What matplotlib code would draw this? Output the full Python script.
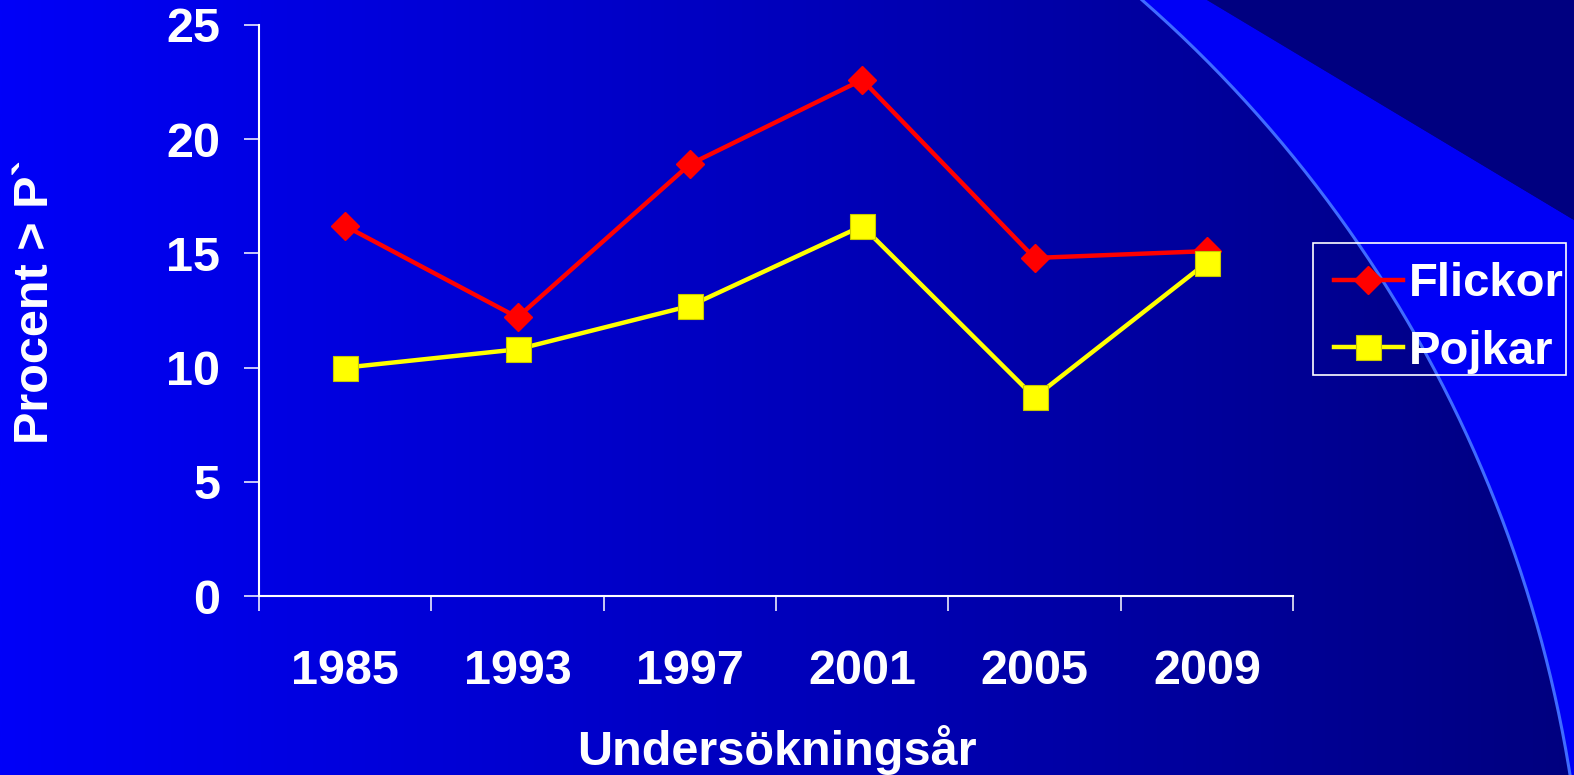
import numpy as np
import matplotlib
matplotlib.use("Agg")
import matplotlib.pyplot as plt
from matplotlib.patches import Polygon, Rectangle

plt.rcParams["font.family"] = ["Liberation Sans", "DejaVu Sans"]
plt.rcParams["font.weight"] = "bold"

years = ["1985", "1993", "1997", "2001", "2005", "2009"]
flickor = [16.2, 12.2, 18.9, 22.6, 14.8, 15.1]
pojkar = [10.0, 10.8, 12.7, 16.2, 8.7, 14.6]
y_ticks = [0, 5, 10, 15, 20, 25]

W, H = 1574, 775
FS = 35
fig = plt.figure(figsize=(W / 100, H / 100), dpi=100)

# slide background: horizontal gradient, bright arc region, dark corner
bg = fig.add_axes([0, 0, 1, 1], zorder=0)
bg.set_xlim(0, W)
bg.set_ylim(H, 0)
bg.axis("off")
grad = np.linspace(0, 1, 400)[None, :]
r0, r1 = np.array([0, 0, 248]) / 255, np.array([0, 0, 127]) / 255
img = r0[None, None, :] * (1 - grad[..., None]) + r1[None, None, :] * grad[..., None]
bg.imshow(img, extent=(0, W, H, 0), aspect="auto", interpolation="bilinear")

cx, cy, rad = 282.8, 980.2, 1303.5
a0 = np.arctan2(0 - cy, 1142 - cx)
a1 = np.arctan2(H + 5 - cy, 1572 - cx)
ang = np.linspace(a0, a1, 200)
arc_x = cx + rad * np.cos(ang)
arc_y = cy + rad * np.sin(ang)
bright = list(zip(arc_x, arc_y)) + [(W, H + 5), (W, 220), (1207, 0)]
bg.add_patch(Polygon(bright, closed=True, facecolor="#0000f6", edgecolor="none"))
bg.add_patch(Polygon([(1207, 0), (W, 0), (W, 220)], closed=True,
                     facecolor="#000080", edgecolor="none"))
bg.plot(arc_x, arc_y, color="#3f6bff", lw=2.2)

# legend frame, drawn as a plain box
bg.add_patch(Rectangle((1313, 243), 253, 132, facecolor="none",
                       edgecolor="white", lw=1.2, zorder=5))

# chart
ax = fig.add_axes([259 / W, 1 - 596 / H, 1034 / W, 571 / H], zorder=2)
ax.patch.set_alpha(0)
x = np.arange(len(years)) + 0.5
ax.plot(x, flickor, color="#ff0000", lw=3.2, marker="D", ms=14,
        mec="#ff0000", label="Flickor", clip_on=False)
ax.plot(x, pojkar, color="#ffff00", lw=3.2, marker="s", ms=18,
        mec="#c8c800", mew=0.8, label="Pojkar", clip_on=False)

ax.set_xlim(0, len(years))
ax.set_ylim(0, 25)
ax.set_yticks(y_ticks)
ax.set_xticks(np.arange(len(years) + 1))
ax.set_xticklabels([])
ax.set_xticks(x, minor=True)
ax.set_xticklabels(years, minor=True)
for side in ["top", "right"]:
    ax.spines[side].set_visible(False)
for side in ["left", "bottom"]:
    ax.spines[side].set_color("white")
    ax.spines[side].set_linewidth(1.5)
ax.tick_params(axis="both", which="major", direction="out", length=11,
               width=1.1, color="white", labelcolor="white", labelsize=FS)
ax.tick_params(axis="y", pad=17)
ax.tick_params(axis="x", which="minor", length=0, pad=38,
               labelcolor="white", labelsize=FS)

fig.text(36 / W, 1 - 302 / H, "Procent > P`", rotation=90, ha="center",
         va="center", color="white", fontsize=FS, fontweight="bold")
fig.text(777 / W, 1 - 765 / H, "Undersökningsår", ha="center",
         va="baseline", color="white", fontsize=FS, fontweight="bold")

leg = ax.legend(loc="upper left", bbox_to_anchor=(1320 / W, 1 - 248 / H),
                bbox_transform=fig.transFigure, borderaxespad=0,
                fontsize=34, frameon=False, handlelength=1.45,
                handletextpad=0.14, labelspacing=0.5, borderpad=0.3)
for t in leg.get_texts():
    t.set_color("white")

fig.savefig("out.png", dpi=100)
